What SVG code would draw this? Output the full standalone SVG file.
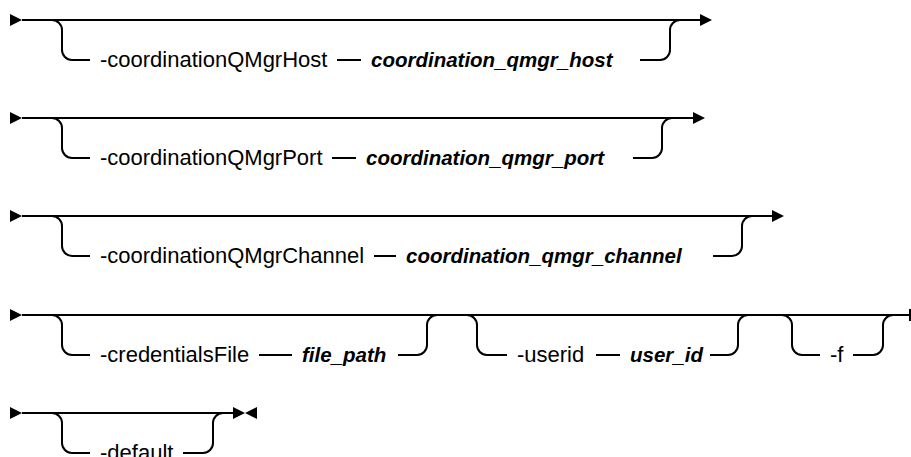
<svg xmlns="http://www.w3.org/2000/svg" width="911" height="457" viewBox="0 0 911 457">
<style>
.track{fill:none;stroke:#000;stroke-width:2}
.mark{fill:#000}
.kw{font-family:"Liberation Sans",Arial,sans-serif;font-size:22px;fill:#000}
.var{font-family:"Liberation Sans",Arial,sans-serif;font-size:20.5px;font-style:italic;font-weight:bold;fill:#000}
</style>
<rect width="911" height="457" fill="#fff"/>
<g id="connectors">
  <!-- row 1 -->
  <polygon class="mark" points="10,14 22,20 10,26"/>
  <path class="track" d="M22 20 H700"/>
  <path class="track" d="M52 20 a10 10 0 0 1 10 10 V50 a10 10 0 0 0 10 10 H90"/>
  <path class="track" d="M337 60 H361"/>
  <path class="track" d="M640 60 H660 a10 10 0 0 0 10 -10 V30 a10 10 0 0 1 10 -10"/>
  <polygon class="mark" points="700,14 712,20 700,26"/>
  <!-- row 2 -->
  <polygon class="mark" points="10,112 22,118 10,124"/>
  <path class="track" d="M22 118 H693"/>
  <path class="track" d="M52 118 a10 10 0 0 1 10 10 V148 a10 10 0 0 0 10 10 H90"/>
  <path class="track" d="M332 158 H356"/>
  <path class="track" d="M633 158 H652 a10 10 0 0 0 10 -10 V128 a10 10 0 0 1 10 -10"/>
  <polygon class="mark" points="693,112 705,118 693,124"/>
  <!-- row 3 -->
  <polygon class="mark" points="10,210 22,216 10,222"/>
  <path class="track" d="M22 216 H772"/>
  <path class="track" d="M52 216 a10 10 0 0 1 10 10 V246 a10 10 0 0 0 10 10 H90"/>
  <path class="track" d="M374 256 H396"/>
  <path class="track" d="M713 256 H732 a10 10 0 0 0 10 -10 V226 a10 10 0 0 1 10 -10"/>
  <polygon class="mark" points="772,210 784,216 772,222"/>
  <!-- row 4 -->
  <polygon class="mark" points="10,309 22,315 10,321"/>
  <path class="track" d="M22 315 H910"/>
  <path class="track" d="M52 315 a10 10 0 0 1 10 10 V345 a10 10 0 0 0 10 10 H90"/>
  <path class="track" d="M259 355 H292"/>
  <path class="track" d="M398 355 H417 a10 10 0 0 0 10 -10 V325 a10 10 0 0 1 10 -10"/>
  <path class="track" d="M467 315 a10 10 0 0 1 10 10 V345 a10 10 0 0 0 10 10 H507"/>
  <path class="track" d="M596 355 H620"/>
  <path class="track" d="M710 355 H728 a10 10 0 0 0 10 -10 V325 a10 10 0 0 1 10 -10"/>
  <path class="track" d="M782 315 a10 10 0 0 1 10 10 V345 a10 10 0 0 0 10 10 H820"/>
  <path class="track" d="M853 355 H873 a10 10 0 0 0 10 -10 V325 a10 10 0 0 1 10 -10"/>
  <path class="track" d="M910 309 V321"/>
  <!-- row 5 -->
  <polygon class="mark" points="10,407 22,413 10,419"/>
  <path class="track" d="M22 413 H235"/>
  <path class="track" d="M52 413 a10 10 0 0 1 10 10 V443 a10 10 0 0 0 10 10 H90"/>
  <path class="track" d="M183 453 H203 a10 10 0 0 0 10 -10 V423 a10 10 0 0 1 10 -10"/>
  <polygon class="mark" points="233,407 245,413 233,419"/>
  <polygon class="mark" points="257,407 245,413 257,419"/>
</g>
<g id="opt-coordinationQMgrHost">
  <text class="kw" x="100" y="67">-coordinationQMgrHost</text>
  <text class="var" x="371" y="67">coordination_qmgr_host</text>
</g>
<g id="opt-coordinationQMgrPort">
  <text class="kw" x="100" y="165">-coordinationQMgrPort</text>
  <text class="var" x="366" y="165">coordination_qmgr_port</text>
</g>
<g id="opt-coordinationQMgrChannel">
  <text class="kw" x="100" y="263">-coordinationQMgrChannel</text>
  <text class="var" x="406" y="263">coordination_qmgr_channel</text>
</g>
<g id="opt-credentialsFile">
  <text class="kw" x="100" y="362">-credentialsFile</text>
  <text class="var" x="302" y="362">file_path</text>
</g>
<g id="opt-userid">
  <text class="kw" x="517" y="362">-userid</text>
  <text class="var" x="630" y="362">user_id</text>
</g>
<g id="opt-f">
  <text class="kw" x="830" y="362">-f</text>
</g>
<g id="opt-default">
  <text class="kw" x="100" y="460">-default</text>
</g>
</svg>
